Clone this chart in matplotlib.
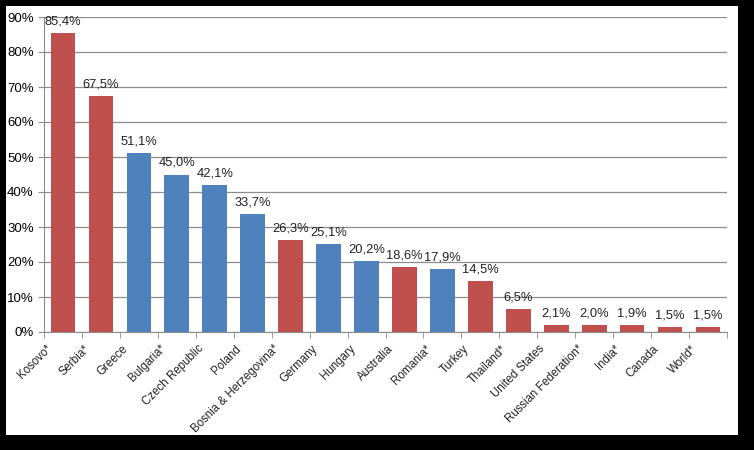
import matplotlib
matplotlib.use("Agg")
import matplotlib.pyplot as plt
from matplotlib.patches import Rectangle
from matplotlib.ticker import FixedLocator
from matplotlib.transforms import ScaledTranslation

countries = ["Kosovo*", "Serbia*", "Greece", "Bulgaria*", "Czech Republic",
             "Poland", "Bosnia & Herzegovina*", "Germany", "Hungary",
             "Australia", "Romania*", "Turkey", "Thailand*", "United States",
             "Russian Federation*", "India*", "Canada", "World*"]
values = [85.4, 67.5, 51.1, 45.0, 42.1, 33.7, 26.3, 25.1, 20.2,
          18.6, 17.9, 14.5, 6.5, 2.1, 2.0, 1.9, 1.5, 1.5]
groups = ["r", "r", "b", "b", "b", "b", "r", "b", "b",
          "r", "b", "r", "r", "r", "r", "r", "r", "r"]

COLORS = {"r": "#C0504D", "b": "#4F81BD"}
GRID = "#8c8c8c"

plt.rcParams["font.family"] = ["Liberation Sans", "DejaVu Sans"]

fig = plt.figure(figsize=(7.54, 4.5), dpi=100, facecolor="black")
# white card inside the black frame
fig.patches.append(Rectangle((6 / 754, 1 - 435 / 450), 732 / 754, 429 / 450,
                             transform=fig.transFigure, facecolor="white",
                             edgecolor="none", zorder=-10))

ax = fig.add_axes([44 / 754, 1 - 332 / 450, 683 / 754, 315 / 450])
ax.set_facecolor("none")

x = range(len(values))
ax.bar(x, values, width=0.65, color=[COLORS[g] for g in groups], zorder=3)
for xi, v in zip(x, values):
    ax.text(xi, v + 1.6, f"{v:.1f}%".replace(".", ","), ha="center",
            va="bottom", fontsize=9.3, color="#222222", zorder=4)

ax.set_xlim(-0.5, len(values) - 0.5)
ax.set_ylim(0, 90)
ax.set_yticks(range(0, 91, 10))
ax.set_yticklabels([f"{t}%" for t in range(0, 91, 10)], fontsize=9.5)
ax.yaxis.grid(True, color=GRID, linewidth=0.9, zorder=0)

# category labels: Excel puts the rotated text a bit left of the centre
ax.set_xticks(list(x))
ax.set_xticklabels([])
ax.tick_params(axis="x", length=0)
shift = ScaledTranslation(-0.13, -0.15, fig.dpi_scale_trans)
for xi, name in zip(x, countries):
    ax.text(xi, 0, name, transform=ax.get_xaxis_transform() + shift,
            rotation=45, ha="right", va="center", rotation_mode="anchor",
            fontsize=8.3, color="#222222")

ax.xaxis.set_minor_locator(FixedLocator([i - 0.5 for i in range(len(values) + 1)]))
ax.tick_params(axis="x", which="minor", length=4, color=GRID)
ax.tick_params(axis="y", length=4, color=GRID)

for s in ("top", "right"):
    ax.spines[s].set_visible(False)
for s in ("left", "bottom"):
    ax.spines[s].set_color(GRID)

fig.savefig("out.png", dpi=100, facecolor="black")
